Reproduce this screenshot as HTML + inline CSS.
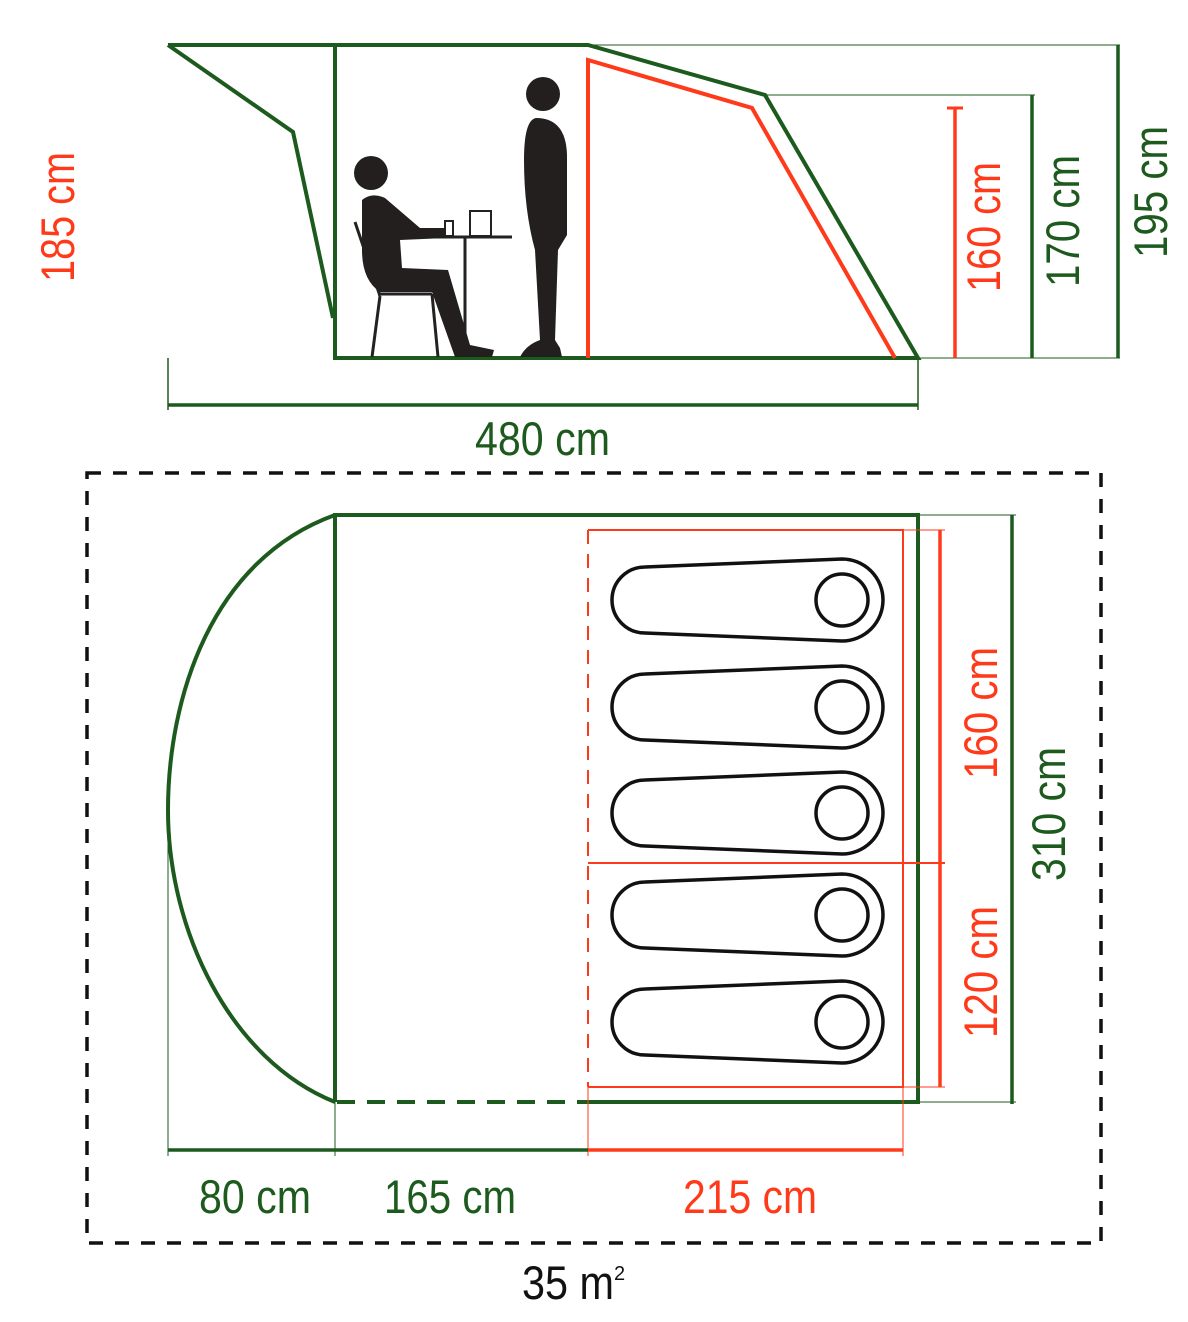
<!DOCTYPE html>
<html><head><meta charset="utf-8"><style>html,body{margin:0;padding:0;background:#fff}svg{display:block}</style></head>
<body>
<svg width="1188" height="1322" viewBox="0 0 1188 1322" xmlns="http://www.w3.org/2000/svg" font-family="Liberation Sans, sans-serif">
<g fill="none" stroke-linejoin="miter">
<polyline points="168,45 588,45 765,95 918,358 335,358 335,45" stroke="#1d5a1d" stroke-width="4"/>
<polyline points="168,45 293,132 333,318" stroke="#1d5a1d" stroke-width="4"/>
<polyline points="588,358 588,60 752,108 895,358" stroke="#ff3a1a" stroke-width="4"/>
<line x1="588" y1="45" x2="1120" y2="45" stroke="#1d5a1d" stroke-width="1"/>
<line x1="765" y1="95" x2="1035" y2="95" stroke="#1d5a1d" stroke-width="1"/>
<line x1="918" y1="358" x2="1120" y2="358" stroke="#1d5a1d" stroke-width="1"/>
<line x1="955" y1="108" x2="955" y2="358" stroke="#ff3a1a" stroke-width="3.5"/>
<line x1="947" y1="108" x2="963" y2="108" stroke="#ff3a1a" stroke-width="3"/>
<line x1="1032" y1="95" x2="1032" y2="358" stroke="#1d5a1d" stroke-width="3.5"/>
<line x1="1118" y1="45" x2="1118" y2="358" stroke="#1d5a1d" stroke-width="3.5"/>
<line x1="168" y1="358" x2="168" y2="410" stroke="#1d5a1d" stroke-width="1.5"/>
<line x1="918" y1="358" x2="918" y2="410" stroke="#1d5a1d" stroke-width="1.5"/>
<line x1="168" y1="405" x2="918" y2="405" stroke="#1d5a1d" stroke-width="3.5"/>
<g stroke="#222" stroke-width="3">
<line x1="355" y1="222" x2="380" y2="296"/>
<line x1="380" y1="296" x2="372" y2="357"/>
<line x1="378" y1="294" x2="432" y2="294"/>
<line x1="432" y1="294" x2="438" y2="357"/>
<line x1="430" y1="237" x2="512" y2="237"/>
<line x1="465" y1="237" x2="465" y2="352"/>
<rect x="445" y="221" width="8" height="15" stroke-width="2"/>
<rect x="470" y="211" width="21" height="25" stroke-width="2"/>
</g>
<g fill="#231f1f" stroke="none">
<circle cx="371" cy="173" r="17"/>
<path d="M362,200 Q372,192 385,198 L420,228 L446,228 L446,238 L400,240 L402,268 L448,270 L470,345 L494,350 L492,357 L455,357 L432,292 L380,292 Q362,280 362,250 Z"/>
<circle cx="543" cy="94" r="17"/>
<path d="M536,118 Q566,118 567,155 L567,235 L558,250 L555,340 L560,348 L562,357 L520,357 Q526,345 540,340 L535,250 Q524,210 524,160 Q524,120 536,118 Z"/>
</g>
<rect x="87" y="473" width="1014" height="770" stroke="#111" stroke-width="3.5" stroke-dasharray="14,12"/>
<path d="M335,515 C210,560 168,700 168,810 C168,930 230,1060 335,1102" stroke="#1d5a1d" stroke-width="4"/>
<polyline points="335,1102 335,515 918,515 918,1102 588,1102" stroke="#1d5a1d" stroke-width="4"/>
<line x1="337" y1="1102" x2="588" y2="1102" stroke="#1d5a1d" stroke-width="4" stroke-dasharray="18,12"/>
<line x1="918" y1="515" x2="1016" y2="515" stroke="#1d5a1d" stroke-width="1"/>
<line x1="918" y1="1102" x2="1016" y2="1102" stroke="#1d5a1d" stroke-width="1"/>
<line x1="1012" y1="515" x2="1012" y2="1104" stroke="#1d5a1d" stroke-width="3.5"/>
<polyline points="588,530 903,530 903,1087 588,1087" stroke="#ff3a1a" stroke-width="2"/>
<line x1="588" y1="530" x2="588" y2="1087" stroke="#ff3a1a" stroke-width="2" stroke-dasharray="14,10"/>
<line x1="588" y1="863" x2="945" y2="863" stroke="#ff3a1a" stroke-width="2"/>
<line x1="903" y1="530" x2="945" y2="530" stroke="#ff3a1a" stroke-width="1"/>
<line x1="903" y1="1087" x2="945" y2="1087" stroke="#ff3a1a" stroke-width="1"/>
<line x1="940" y1="530" x2="940" y2="1087" stroke="#ff3a1a" stroke-width="3.5"/>
<g stroke="#111" stroke-width="3.5">
<path d="M645,567 L842,559 A41,41 0 0 1 842,641 L645,633 A33,33 0 0 1 645,567 Z"/><circle cx="842" cy="600" r="26"/>
<path d="M645,674 L842,666 A41,41 0 0 1 842,748 L645,740 A33,33 0 0 1 645,674 Z"/><circle cx="842" cy="707" r="26"/>
<path d="M645,780 L842,772 A41,41 0 0 1 842,854 L645,846 A33,33 0 0 1 645,780 Z"/><circle cx="842" cy="813" r="26"/>
<path d="M645,882 L842,874 A41,41 0 0 1 842,956 L645,948 A33,33 0 0 1 645,882 Z"/><circle cx="842" cy="915" r="26"/>
<path d="M645,989 L842,981 A41,41 0 0 1 842,1063 L645,1055 A33,33 0 0 1 645,989 Z"/><circle cx="842" cy="1022" r="26"/>
</g>
<line x1="168" y1="810" x2="168" y2="1156" stroke="#1d5a1d" stroke-width="1"/>
<line x1="335" y1="1102" x2="335" y2="1156" stroke="#1d5a1d" stroke-width="1"/>
<line x1="588" y1="1087" x2="588" y2="1156" stroke="#ff3a1a" stroke-width="1"/>
<line x1="903" y1="1087" x2="903" y2="1156" stroke="#ff3a1a" stroke-width="1"/>
<line x1="168" y1="1150" x2="588" y2="1150" stroke="#1d5a1d" stroke-width="3.5"/>
<line x1="588" y1="1150" x2="903" y2="1150" stroke="#ff3a1a" stroke-width="3.5"/>
</g>
<g font-size="47">
<text x="475" y="455" fill="#1d5a1d" textLength="135" lengthAdjust="spacingAndGlyphs">480 cm</text>
<text x="199" y="1213" fill="#1d5a1d" textLength="112" lengthAdjust="spacingAndGlyphs">80 cm</text>
<text x="384" y="1213" fill="#1d5a1d" textLength="132" lengthAdjust="spacingAndGlyphs">165 cm</text>
<text x="683" y="1213" fill="#ff3a1a" textLength="134" lengthAdjust="spacingAndGlyphs">215 cm</text>
<text x="522" y="1299" fill="#111" textLength="92" lengthAdjust="spacingAndGlyphs">35 m</text>
<text x="614" y="1280" fill="#111" font-size="20">2</text>
<text transform="translate(74,282) rotate(-90)" fill="#ff3a1a" textLength="130" lengthAdjust="spacingAndGlyphs">185 cm</text>
<text transform="translate(1000,292) rotate(-90)" fill="#ff3a1a" textLength="130" lengthAdjust="spacingAndGlyphs">160 cm</text>
<text transform="translate(1079,287) rotate(-90)" fill="#1d5a1d" textLength="132" lengthAdjust="spacingAndGlyphs">170 cm</text>
<text transform="translate(1167,258) rotate(-90)" fill="#1d5a1d" textLength="132" lengthAdjust="spacingAndGlyphs">195 cm</text>
<text transform="translate(997,779) rotate(-90)" fill="#ff3a1a" textLength="132" lengthAdjust="spacingAndGlyphs">160 cm</text>
<text transform="translate(997,1038) rotate(-90)" fill="#ff3a1a" textLength="132" lengthAdjust="spacingAndGlyphs">120 cm</text>
<text transform="translate(1065,881) rotate(-90)" fill="#1d5a1d" textLength="134" lengthAdjust="spacingAndGlyphs">310 cm</text>
</g>
</svg>
</body></html>
